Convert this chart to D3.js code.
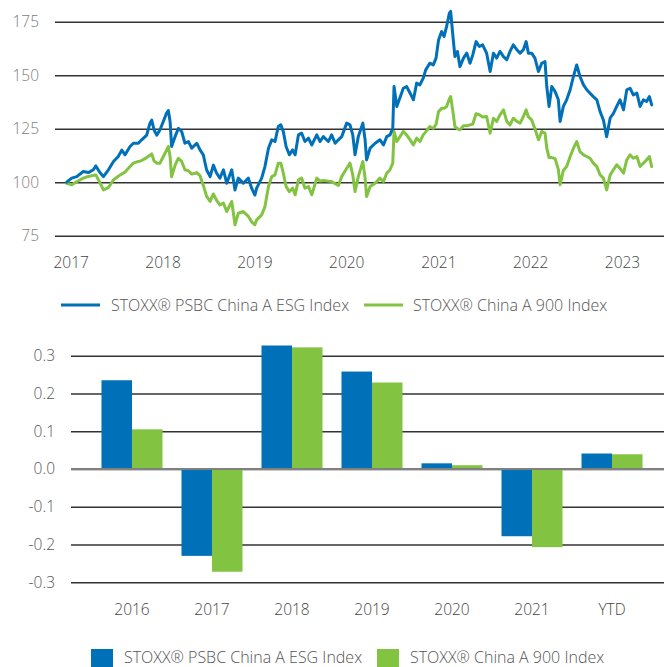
<!DOCTYPE html>
<html>
<head>
<meta charset="utf-8">
<script src="https://cdn.jsdelivr.net/npm/d3@7"></script>
<style>
  body { margin: 0; background: #fff; }
  svg { display: block; font-family: "Open Sans", sans-serif; }
</style>
</head>
<body>
<svg id="chart" width="664" height="667"></svg>
<script>
// series names
const seriesNames = ['STOXX® PSBC China A ESG Index', 'STOXX® China A 900 Index'];
const seriesColors = ['#0070b8', '#82c341'];

// line chart: index levels
const lineDates = [
  '2016-12-16','2017-01-05','2017-01-25','2017-02-20','2017-03-12','2017-04-01','2017-04-11','2017-04-27',
  '2017-05-11','2017-05-31','2017-06-20','2017-07-09','2017-07-23','2017-08-05','2017-08-25','2017-09-07',
  '2017-09-27','2017-10-10','2017-10-30','2017-11-12','2017-11-19','2017-11-28','2017-12-09','2017-12-22',
  '2018-01-04','2018-01-17','2018-01-24','2018-01-31','2018-02-06','2018-02-20','2018-03-05','2018-03-18',
  '2018-03-31','2018-04-14','2018-04-27','2018-05-17','2018-05-30','2018-06-12','2018-06-25','2018-07-09',
  '2018-07-22','2018-08-04','2018-08-17','2018-08-31','2018-09-13','2018-10-03','2018-10-16','2018-10-29',
  '2018-11-18','2018-12-08','2018-12-21','2019-01-03',
  '2019-01-10','2019-01-30','2019-02-12','2019-02-26','2019-03-11','2019-03-24','2019-04-06','2019-04-16',
  '2019-04-26','2019-05-07','2019-05-20','2019-06-02','2019-06-12','2019-06-25','2019-07-08','2019-07-21',
  '2019-08-04','2019-08-17','2019-09-06','2019-09-19','2019-10-02','2019-10-22','2019-11-04','2019-11-18',
  '2019-12-01','2019-12-14','2020-01-03','2020-01-16','2020-01-27','2020-02-05','2020-02-18','2020-03-07',
  '2020-03-16','2020-03-22','2020-04-05','2020-04-25','2020-05-14','2020-05-28','2020-06-10','2020-06-23',
  '2020-07-04','2020-07-09','2020-07-20',
  '2020-08-15','2020-08-28','2020-09-11','2020-09-24','2020-10-07','2020-10-20','2020-11-02','2020-11-12',
  '2020-11-28','2020-12-12','2020-12-23','2021-01-02','2021-01-14','2021-01-24','2021-02-03','2021-02-14',
  '2021-02-19','2021-02-27','2021-03-08','2021-03-18','2021-03-28','2021-04-11','2021-04-24','2021-05-07',
  '2021-05-18','2021-05-31','2021-06-13','2021-06-26','2021-07-12','2021-07-26','2021-08-08','2021-08-21',
  '2021-09-03','2021-09-17','2021-09-30','2021-10-13','2021-10-26','2021-11-09','2021-11-22','2021-12-05',
  '2021-12-16','2021-12-25','2022-01-07','2022-01-20','2022-02-03','2022-02-16','2022-03-01','2022-03-08',
  '2022-03-17','2022-03-28','2022-04-10','2022-04-23','2022-04-30','2022-05-13','2022-05-26','2022-06-09',
  '2022-06-22','2022-07-05','2022-07-18','2022-08-01','2022-08-14','2022-08-27','2022-09-09','2022-09-23',
  '2022-10-06','2022-10-19','2022-11-01','2022-11-15','2022-11-28','2022-12-11','2022-12-24','2023-01-07',
  '2023-01-20','2023-02-02','2023-02-15','2023-03-01','2023-03-14','2023-03-27','2023-04-09','2023-04-20',
  '2023-04-29'
];

const esgLevels = [
  100, 101.9, 102.6, 105, 104.5, 105.8, 107.6, 104.5,
  102.6, 105.8, 109.7, 112, 115, 112.8, 116.7, 118.2,
  118.2, 119.8, 122, 127.6, 129, 124.5, 122, 124.5,
  128.4, 132.3, 133.5, 128.4, 116.7, 121.3, 125.2, 123.7,
  118.2, 119, 115.9, 118.2, 115.1, 112.8, 105.8, 102.6,
  108, 104.2, 101.9, 105.8, 99.5, 105.8, 96.4, 101.9,
  99.5, 101.9, 97.2, 94,
  97.2, 101.9, 107.3, 115.9, 119.8, 119, 126, 126.8,
  123.7, 116.7, 112.8, 115.1, 112.8, 122.1, 122.9, 119,
  120.6, 117.4, 122.1, 119, 121.3, 119, 122.1, 118.2,
  119.8, 121.3, 127.6, 126.8, 122.1, 112.8, 121.3, 127.6,
  119.8, 110.4, 115.9, 118.2, 119.8, 117.4, 121.3, 122.1,
  125.2, 144.7, 135.4,
  143.9, 144.7, 141.6, 138.5, 146.3, 145.5, 148.6, 152.5,
  155.6, 154.8, 158, 166.5, 170.4, 168.1, 172.8, 179,
  179.8, 169.6, 158.7, 161.1, 154, 158, 160.3, 155.6,
  159.5, 165.7, 163.4, 164.2, 160.3, 151.7, 160.3, 158,
  161.1, 158.7, 157.2, 161.1, 164.2, 161.9, 160.3, 161.9,
  165.7, 160.3, 160.3, 158, 151.7, 155.6, 156.4, 144.7,
  135.4, 144.7, 142.4, 138.5, 128.4, 135.4, 138.5, 143.2,
  149.4, 154.8, 149.4, 145.5, 143.2, 141.6, 140, 138.5,
  133, 129.1, 121.3, 130, 132.2, 135.4, 138.5, 133.8,
  143.2, 143.9, 140.8, 141.6, 135.4, 138.5, 137.7, 140,
  136.1
];

const a900Levels = [
  99.5, 98.8, 100.2, 101.9, 102.7, 103.2, 103.4, 99.8,
  96.4, 97.5, 101.1, 102.8, 103.8, 104.8, 107.3, 108.9,
  109.7, 110.1, 111.5, 112.6, 113.2, 110, 108.9, 108.9,
  112, 115, 116.7, 112, 102.5, 108, 111.2, 109.7,
  105.8, 105.3, 103.8, 104.5, 103, 98.5, 93.5, 91,
  94.5, 91.5, 89.4, 90.2, 86.3, 91, 80.1, 85.5,
  86.3, 84, 81.5, 80.1,
  82.4, 84.7, 88.6, 98, 102.6, 103.4, 108.9, 108.9,
  104.2, 98, 95.6, 97.2, 94.1, 101.1, 101.9, 97.2,
  98, 94.1, 101.9, 100.5, 100.8, 100.5, 100.3, 99.3,
  98.5, 102.6, 106.5, 108.9, 103.4, 95.6, 102.6, 109.7,
  101.9, 93.3, 98, 99.5, 101.9, 100.3, 104.2, 105.8,
  108.9, 123.7, 119,
  123.7, 122.1, 119.8, 117.4, 120.6, 119, 122.1, 123.5,
  126, 125.2, 127, 133, 134.5, 134.5, 135.4, 139,
  140, 133.8, 126, 125, 124.5, 126.4, 126.4, 126.8,
  127.2, 132, 131.5, 130.5, 130.7, 122.9, 129.9, 128.4,
  131.5, 133.8, 128.4, 126.8, 129.9, 128.4, 127.6, 130.7,
  133.8, 130.5, 129.1, 125, 119.8, 123.7, 122.9, 116,
  111.5, 111.5, 111, 106, 98.8, 105.5, 107.3, 112,
  115.9, 119, 114.3, 112.8, 112, 111.2, 108.9, 107.3,
  103.4, 101.9, 96.4, 103.4, 105.8, 108.1, 106.5, 104.2,
  110.4, 112.8, 111.2, 112, 107.3, 108.9, 110.4, 112,
  107.3
];

const lineYTicks = [75, 100, 125, 150, 175];
const lineYears = [2017, 2018, 2019, 2020, 2021, 2022, 2023];

// bar chart: annual returns
const barCategories = ['2016', '2017', '2018', '2019', '2020', '2021', 'YTD'];
const esgReturns = [0.235, -0.230, 0.327, 0.258, 0.015, -0.178, 0.041];
const a900Returns = [0.105, -0.272, 0.322, 0.229, 0.010, -0.207, 0.039];
const barYTicks = [-0.3, -0.2, -0.1, 0.0, 0.1, 0.2, 0.3];

const W = 664;
const svg = d3.select('#chart');
const parse = d3.utcParse('%Y-%m-%d');
const dates = lineDates.map(parse);

// ---- line chart ----
const x = d3.scaleUtc()
  .domain([new Date(Date.UTC(2017, 0, 1)), new Date(Date.UTC(2023, 0, 1))])
  .range([70.7, 622]);

const y = d3.scaleLinear()
  .domain([75, 175])
  .range([235.7, 21.7]);

svg.append('g')
    .attr('transform', 'translate(55,0)')
    .call(d3.axisLeft(y).tickValues(lineYTicks).tickSize(-(W - 55)).tickPadding(16))
    .attr('font-family', null)
    .attr('font-size', 15.5)
    .call(g => g.select('.domain').remove())
    .call(g => g.selectAll('.tick line').attr('stroke', '#333').attr('stroke-width', 1.5))
    .call(g => g.selectAll('.tick text').attr('fill', '#7d7d7d').attr('font-weight', 300));

svg.append('g')
    .attr('transform', 'translate(0,235.7)')
    .call(d3.axisBottom(x)
      .tickValues(lineYears.map(yr => new Date(Date.UTC(yr, 0, 1))))
      .tickFormat(d3.utcFormat('%Y'))
      .tickSize(0)
      .tickPadding(21))
    .attr('font-family', null)
    .attr('font-size', 15.5)
    .call(g => g.select('.domain').remove())
    .call(g => g.selectAll('.tick text').attr('fill', '#444').attr('font-weight', 300));

const line = d3.line()
  .x((d, i) => x(dates[i]))
  .y(d => y(d));

svg.append('g')
    .attr('fill', 'none')
    .attr('stroke-width', 3)
    .attr('stroke-linejoin', 'round')
    .attr('stroke-linecap', 'round')
  .selectAll('path')
  .data([a900Levels, esgLevels])
  .join('path')
    .attr('stroke', (d, i) => seriesColors[1 - i])
    .attr('d', line);

// line legend
const leg1 = svg.append('g')
    .attr('font-size', 16)
    .attr('font-weight', 300)
    .attr('fill', '#555');
[[61, 111], [364, 413]].forEach(([lx, tx], i) => {
  leg1.append('line')
      .attr('x1', lx).attr('x2', lx + 39)
      .attr('y1', 305).attr('y2', 305)
      .attr('stroke', seriesColors[i])
      .attr('stroke-width', 3);
  leg1.append('text')
      .attr('x', tx).attr('y', 305)
      .attr('dy', '0.35em')
      .text(seriesNames[i]);
});

// ---- bar chart ----
const xb = d3.scaleBand()
  .domain(barCategories)
  .range([71, 673])
  .paddingInner(0.2375)
  .paddingOuter(0.381);

const xs = d3.scaleBand()
  .domain([0, 1])
  .range([0, xb.bandwidth()]);

const yb = d3.scaleLinear()
  .domain([-0.3, 0.3])
  .range([582.3, 355.7]);

svg.append('g')
    .attr('transform', 'translate(71,0)')
    .call(d3.axisLeft(yb).tickValues(barYTicks).tickFormat(d => d.toFixed(1))
      .tickSize(-(W - 71)).tickPadding(16))
    .attr('font-family', null)
    .attr('font-size', 15.5)
    .call(g => g.select('.domain').remove())
    .call(g => g.selectAll('.tick line').attr('stroke', '#333').attr('stroke-width', 1.5))
    .call(g => g.selectAll('.tick text').attr('fill', '#555').attr('font-weight', 300));

const barRows = barCategories.map((c, i) => [esgReturns[i], a900Returns[i]]);

svg.append('g')
  .selectAll('g')
  .data(barRows)
  .join('g')
    .attr('transform', (d, i) => `translate(${xb(barCategories[i])},0)`)
  .selectAll('rect')
  .data(d => d)
  .join('rect')
    .attr('x', (d, j) => xs(j))
    .attr('width', xs.bandwidth())
    .attr('y', d => yb(Math.max(0, d)))
    .attr('height', d => Math.abs(yb(d) - yb(0)))
    .attr('fill', (d, j) => seriesColors[j]);

// zero line over the bars
svg.append('line')
    .attr('x1', 71).attr('x2', W)
    .attr('y1', yb(0)).attr('y2', yb(0))
    .attr('stroke', '#808080')
    .attr('stroke-width', 2);

svg.append('g')
    .attr('transform', `translate(0,${yb(-0.3)})`)
    .call(d3.axisBottom(xb).tickSize(0).tickPadding(21.5))
    .attr('font-family', null)
    .attr('font-size', 15.5)
    .call(g => g.select('.domain').remove())
    .call(g => g.selectAll('.tick text').attr('fill', '#444').attr('font-weight', 300));

// bar legend
const leg2 = svg.append('g')
    .attr('font-size', 16)
    .attr('font-weight', 300)
    .attr('fill', '#555');
[[91, 124], [377, 410]].forEach(([rx, tx], i) => {
  leg2.append('rect')
      .attr('x', rx).attr('y', 649)
      .attr('width', 22).attr('height', 22)
      .attr('fill', seriesColors[i]);
  leg2.append('text')
      .attr('x', tx).attr('y', 657.5)
      .attr('dy', '0.35em')
      .text(seriesNames[i]);
});
</script>
</body>
</html>
